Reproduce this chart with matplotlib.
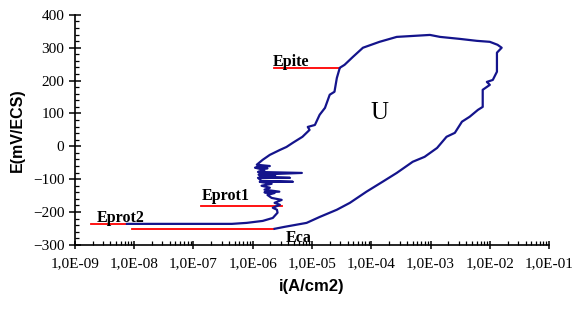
import numpy as np
import matplotlib
matplotlib.use("Agg")
import matplotlib.pyplot as plt
from matplotlib.ticker import FixedLocator, LogLocator, MultipleLocator, FuncFormatter, NullFormatter

# ---- data (log10 of current density in A/cm2, potential in mV/ECS) ----
loop_log_i = [-8.12, -6.35, -6.10, -5.83, -5.66, -5.58, -5.59, -5.66, -5.54,
              -5.63, -5.51, -5.68, -5.75, -5.63, -5.80, -5.55, -5.80, -5.71,
              -5.85, -5.68, -5.88, -5.32, -5.85, -5.91, -5.37, -5.88, -5.62,
              -5.90, -5.17, -5.91, -5.80, -5.96, -5.75, -5.92, -5.71, -5.93,
              -5.83, -5.71, -5.54, -5.43, -5.32, -5.16, -5.04, -5.07, -4.95,
              -4.87, -4.78, -4.70, -4.62, -4.58, -4.53, -4.45, -4.31, -4.14,
              -3.86, -3.57, -3.01, -2.84, -2.51, -2.22, -2.00, -1.87, -1.80,
              -1.88, -1.88, -1.95, -2.05, -2.00, -2.12, -2.12, -2.20, -2.34,
              -2.47, -2.59, -2.73, -2.89, -3.10, -3.30, -3.57, -3.81, -4.08,
              -4.36, -4.58, -4.87, -5.09, -5.46, -5.63]
loop_E = [-236, -236, -233, -227, -218, -202, -193, -187, -178,
          -172, -163, -157, -148, -142, -140, -138, -132, -126,
          -120, -114, -108, -108, -105, -96, -96, -93, -88,
          -86, -81, -78, -72, -65, -67, -62, -60, -56,
          -41, -26, -11, -2, 11, 29, 50, 59, 65,
          96, 117, 157, 166, 208, 239, 248, 272, 300,
          318, 333, 339, 333, 327, 321, 318, 309, 300,
          285, 227, 202, 196, 187, 172, 120, 111, 90,
          75, 41, 29, -5, -32, -47, -81, -108, -138,
          -172, -193, -215, -233, -245, -251]

# reference potentials (mV) and the current range of each marker line (A/cm2)
ref_names = ["Epite", "Eprot1", "Eprot2", "Eca"]
ref_E = [239, -181, -236, -251]
ref_i_start = [2.3e-6, 1.33e-7, 1.9e-9, 9.1e-9]
ref_i_end = [3.0e-5, 3.1e-6, 7.5e-9, 2.3e-6]
label_i = [2.2e-6, 1.38e-7, 2.35e-9, 3.6e-6]
label_E = [244, -163, -229, -254]

x_ticks = [1e-9, 1e-8, 1e-7, 1e-6, 1e-5, 1e-4, 1e-3, 1e-2, 1e-1]
y_ticks = [-300, -200, -100, 0, 100, 200, 300, 400]

# ---- figure ----
fig = plt.figure(figsize=(5.75, 3.10), dpi=100)
ax = fig.add_axes([0.130, 0.210, 0.825, 0.742])

i_vals = 10 ** np.array(loop_log_i)
ax.plot(i_vals, loop_E, color="#14148c", lw=1.6, zorder=3)

for name, e, i0, i1, li, le in zip(ref_names, ref_E, ref_i_start, ref_i_end, label_i, label_E):
    ax.plot([i0, i1], [e, e], color="#ff0000", lw=1.3, zorder=2)
    va = "top" if name == "Eca" else "baseline"
    ax.text(li, le, name, family="Liberation Serif", weight="bold", fontsize=11.5,
            ha="left", va=va, zorder=4)

ax.text(10 ** -3.86, 102, "U", family="Liberation Serif", fontsize=18,
        ha="center", va="center")

ax.set_xscale("log")
ax.set_xlim(1e-9, 1e-1)
ax.set_ylim(-300, 400)

ax.xaxis.set_major_locator(FixedLocator(x_ticks))
ax.xaxis.set_minor_locator(LogLocator(base=10, subs=np.arange(2, 10), numticks=20))
ax.xaxis.set_minor_formatter(NullFormatter())

def fmt_x(v, pos):
    exp = int(round(np.log10(v)))
    return "1,0E-%02d" % (-exp) if exp < 0 else "1,0E+%02d" % exp

ax.xaxis.set_major_formatter(FuncFormatter(fmt_x))
ax.yaxis.set_major_locator(FixedLocator(y_ticks))
ax.yaxis.set_minor_locator(MultipleLocator(20))

for s in ["top", "right"]:
    ax.spines[s].set_visible(False)
for s in ["left", "bottom"]:
    ax.spines[s].set_linewidth(1.2)

ax.tick_params(axis="x", which="major", direction="inout", length=6, width=1.1, pad=6,
               labelsize=11)
ax.tick_params(axis="x", which="minor", direction="in", length=3, width=0.9)
ax.tick_params(axis="y", which="major", direction="inout", length=9, width=1.1, pad=3,
               labelsize=11)
ax.tick_params(axis="y", which="minor", direction="in", length=3, width=0.9)
for lab in ax.get_xticklabels() + ax.get_yticklabels():
    lab.set_family("Liberation Serif")

ax.set_xlabel("i(A/cm2)", family="Liberation Sans", weight="bold", fontsize=12, labelpad=6)
ax.set_ylabel("E(mV/ECS)", family="Liberation Sans", weight="bold", fontsize=11.5, labelpad=6)

fig.savefig("out.png", dpi=100)
